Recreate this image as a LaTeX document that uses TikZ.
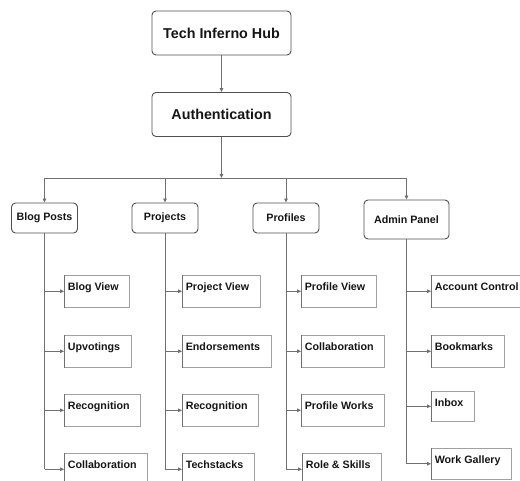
\documentclass[tikz,border=0pt]{standalone}
\usepackage{fontspec}
\setmainfont{Liberation Sans}
\usepackage{xcolor}
\usetikzlibrary{arrows.meta}

\definecolor{boxgray}{HTML}{505050}
\definecolor{leafgray}{HTML}{A0A0A0}
\definecolor{linegray}{HTML}{707070}
\definecolor{textblack}{HTML}{151515}

\tikzset{
  mainbox/.style={draw=boxgray, rounded corners=4pt, line width=0.9pt, text=textblack,
    minimum width=139pt, minimum height=44pt, font=\fontsize{14.3}{16}\selectfont\bfseries},
  secbox/.style={draw=boxgray, rounded corners=4pt, line width=0.9pt, text=textblack,
    minimum width=66pt, minimum height=30pt, inner xsep=4.5pt, font=\fontsize{10.7}{12}\selectfont\bfseries},
  leafbox/.style={draw=leafgray, line width=0.6pt, text=textblack, anchor=north west,
    inner xsep=3.5pt, inner ysep=0pt, text height=15pt, text depth=17pt,
    font=\fontsize{10.7}{12}\selectfont\bfseries, execute at end node={\hspace*{7.5pt}}},
  trunk/.style={draw=linegray, line width=0.8pt},
  link/.style={trunk, -{Triangle[length=4pt,width=3.6pt]}}
}

\begin{document}
\begin{tikzpicture}[x=1pt, y=-1pt]
        \useasboundingbox (0,0) rectangle (520,481);
        % Top of the hierarchy
        \node[mainbox] (hub) at (221.5,33) {Tech Inferno Hub};
        \node[mainbox] (auth) at (221.5,114.5) {Authentication};
        \draw[link] (hub.south) -- (auth.north);

        % Sections
        \node[secbox] (blog) at (44.5,218) {Blog Posts};
        \node[secbox] (proj) at (165,218) {Projects};
        \node[secbox] (prof) at (286,218) {Profiles};
        \node[secbox, minimum width=85pt, minimum height=39pt] (admin) at (406.5,219.5) {Admin Panel};

        \coordinate (bus) at (221.5,178);
        \draw[link] (auth.south) -- (bus);
        \draw[trunk] (blog.north |- bus) -- (admin.north |- bus);
        \foreach \grp in {blog,proj,prof,admin}
          \draw[link] (\grp.north |- bus) -- (\grp.north);

        % Pages under each section
        \node[leafbox] (b1) at (64,275) {Blog View};
        \node[leafbox] (b2) at (64,335) {Upvotings};
        \node[leafbox] (b3) at (64,394) {Recognition};
        \node[leafbox] (b4) at (64,453) {Collaboration};

        \node[leafbox] (p1) at (182,275) {Project View};
        \node[leafbox] (p2) at (182,335) {Endorsements};
        \node[leafbox] (p3) at (182,394) {Recognition};
        \node[leafbox] (p4) at (182,453) {Techstacks};

        \node[leafbox] (f1) at (301,275) {Profile View};
        \node[leafbox] (f2) at (301,335) {Collaboration};
        \node[leafbox] (f3) at (301,394) {Profile Works};
        \node[leafbox] (f4) at (302,453) {Role \& Skills};

        \node[leafbox] (a1) at (431,275) {Account Control};
        \node[leafbox] (a2) at (431,335) {Bookmarks};
        \node[leafbox, text depth=15pt] (a3) at (431,391) {Inbox};
        \node[leafbox, text depth=16pt] (a4) at (431,448) {Work Gallery};

        \foreach \grp/\lf in {blog/b, proj/p, prof/f, admin/a} {
          \draw[trunk] (\grp.south) -- (\grp.south |- \lf4.west);
          \foreach \i in {1,...,4} {
            \draw[trunk] (\lf\i.north west) -- (\lf\i.south west);
            \draw[link] (\grp.south |- \lf\i.west) -- (\lf\i.west);
          }
        }
    \end{tikzpicture}
\end{document}
